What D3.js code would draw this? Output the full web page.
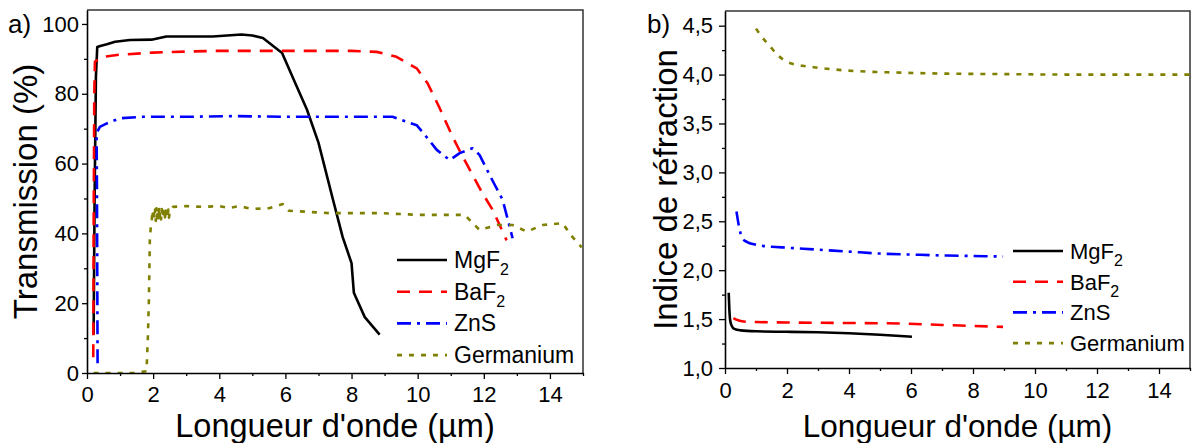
<!DOCTYPE html>
<html>
<head>
<meta charset="utf-8">
<script src="https://cdn.jsdelivr.net/npm/d3@7"></script>
<style>
  html, body { margin: 0; padding: 0; background: #fff; }
  svg { display: block; font-family: "Liberation Sans", Arial, sans-serif; }
</style>
</head>
<body>
<svg id="chart" width="1192" height="443"></svg>
<script>
// ---------------- DATA ----------------
const seriesNames = ["MgF2", "BaF2", "ZnS", "Germanium"];

// Panel a) Transmission (%) vs wavelength (µm)
const mgf2T_x = [0.2, 0.23, 0.27, 0.31, 0.4, 0.6, 0.85, 1.3, 1.95, 2.4, 3.0, 3.8, 4.67, 5.0, 5.32, 5.9, 6.3, 6.65, 7.0, 7.43, 7.73, 8.0, 8.07, 8.4, 8.85];
const mgf2T_y = [11, 50, 85, 93.4, 93.7, 94.2, 94.9, 95.4, 95.5, 96.4, 96.4, 96.4, 97.0, 96.7, 96.0, 91.7, 83, 75.5, 66, 50, 39, 31.5, 23, 16, 11];

const baf2T_x = [0.19, 0.2, 0.22, 0.24, 0.49, 1.0, 2.0, 3.0, 4.0, 5.0, 6.0, 7.0, 8.0, 8.76, 9.36, 9.97, 10.3, 10.66, 11.06, 11.36, 11.96, 12.27, 12.69];
const baf2T_y = [4.5, 40, 80, 89.2, 90.6, 91.2, 91.8, 92.1, 92.3, 92.3, 92.3, 92.3, 92.3, 92.0, 90.6, 87.3, 83, 76, 67.6, 62, 51.5, 46.7, 38];

const znsT_x = [0.32, 0.31, 0.3, 0.29, 0.39, 0.6, 1.0, 1.7, 3.0, 4.5, 6.0, 7.5, 9.0, 9.24, 9.97, 10.27, 10.57, 10.97, 11.27, 11.66, 11.87, 12.27, 12.57, 12.78, 12.87];
const znsT_y = [2.8, 30, 55, 68.7, 70.5, 71.5, 73.0, 73.4, 73.4, 73.6, 73.4, 73.4, 73.4, 73.4, 71, 67.6, 64, 61, 63, 64.4, 62.5, 55, 49.6, 42, 38.6];

const geT_x = [0.2, 0.6, 1.0, 1.4, 1.8, 1.84, 1.87, 1.9, 1.93, 1.96, 1.98, 2.0, 2.02, 2.04, 2.06, 2.08, 2.1, 2.12, 2.14, 2.16, 2.18, 2.2, 2.22, 2.24, 2.26, 2.28, 2.3, 2.32, 2.34, 2.36, 2.38, 2.4, 2.42, 2.44, 2.46, 2.48, 2.5, 2.55, 2.6, 3.0, 3.5, 4.0, 4.3, 4.6, 5.0, 5.5, 5.92, 6.1, 7.34, 8.85, 10.06, 11.42, 11.87, 12.4, 12.87, 13.3, 13.78, 14.38, 14.68, 14.96];
const geT_y = [0, 0, 0, 0, 0.5, 10, 20, 38, 42, 44, 46.5, 43.5, 47, 44.2, 46.8, 43.6, 47.2, 44.5, 46.6, 43.8, 47, 44.8, 46.3, 44, 47, 45, 46.5, 44.2, 46.9, 44.6, 47.1, 44.3, 46.4, 44.8, 46.8, 44.5, 46.2, 46.8, 47.6, 47.8, 47.6, 47.8, 47.3, 47.8, 47.0, 47.2, 48.4, 46.5, 45.8, 45.8, 45.3, 45.3, 41, 42.4, 42.4, 40.5, 42.4, 42.9, 39, 36];

// Panel b) Refractive index vs wavelength (µm)
const mgf2N_x = [0.12, 0.14, 0.17, 0.22, 0.3, 0.5, 1.0, 2.0, 3.0, 4.0, 5.0, 6.03];
const mgf2N_y = [1.77, 1.60, 1.48, 1.43, 1.40, 1.385, 1.375, 1.37, 1.365, 1.355, 1.34, 1.32];

const baf2N_x = [0.27, 0.4, 0.6, 1.0, 2.0, 4.0, 5.65, 7.0, 8.0, 8.97];
const baf2N_y = [1.51, 1.49, 1.475, 1.47, 1.465, 1.46, 1.455, 1.44, 1.43, 1.42];

const znsN_x = [0.37, 0.45, 0.55, 0.7, 1.0, 1.5, 2.0, 3.0, 4.0, 5.0, 6.0, 7.15, 8.0, 8.97];
const znsN_y = [2.60, 2.45, 2.33, 2.29, 2.26, 2.24, 2.23, 2.21, 2.19, 2.17, 2.16, 2.15, 2.145, 2.14];

const geN_x = [1.0, 1.2, 1.45, 1.7, 2.0, 2.5, 3.0, 4.0, 4.6, 5.65, 7.0, 9.0, 11.0, 13.0, 15.0];
const geN_y = [4.47, 4.38, 4.29, 4.20, 4.13, 4.09, 4.07, 4.04, 4.03, 4.02, 4.01, 4.005, 4.0, 4.0, 4.0];

// Tick values
const xTicks = [0, 2, 4, 6, 8, 10, 12, 14];
const xMinorTicks = [1, 3, 5, 7, 9, 11, 13, 15];
const yTicksA = [0, 20, 40, 60, 80, 100];
const yMinorA = [10, 30, 50, 70, 90];
const yTicksB = [1.0, 1.5, 2.0, 2.5, 3.0, 3.5, 4.0, 4.5];
const yMinorB = [1.25, 1.75, 2.25, 2.75, 3.25, 3.75, 4.25];

// ---------------- STYLES ----------------
const colors = {MgF2: "#000000", BaF2: "#ff0000", ZnS: "#0000ff", Germanium: "#808000"};
const dashes = {MgF2: null, BaF2: "13,9", ZnS: "14,6,3,6", Germanium: "5,7"};
const FONT = '"Liberation Sans", Arial, sans-serif';

const svg = d3.select("#chart");

function zip(xs, ys) { return xs.map((x, i) => [x, ys[i]]); }

function drawPanel(cfg) {
  const {x0, x1, yTop, yBot, xDomain, yDomain, yTicks, yMinor, yFmt, series, id, curve,
         yTickSize, yPad, xPad, yTitle, yTitleX, xTitleSize, label, labelX, legend} = cfg;
  const x = d3.scaleLinear().domain(xDomain).range([x0, x1]);
  const y = d3.scaleLinear().domain(yDomain).range([yBot, yTop]);

  svg.append("clipPath").attr("id", "clip" + id)
    .append("rect").attr("x", x0).attr("y", yTop).attr("width", x1 - x0).attr("height", yBot - yTop);

  // frame (top & right)
  svg.append("path")
    .attr("d", `M${x0},${yTop}H${x1}V${yBot}`)
    .attr("fill", "none").attr("stroke", "#333").attr("stroke-width", 1.5);

  // lines
  const g = svg.append("g").attr("clip-path", `url(#clip${id})`);
  const line = d3.line().x(d => x(d[0])).y(d => y(d[1])).curve(curve);
  series.forEach(s => {
    g.append("path").datum(zip(s.xs, s.ys))
      .attr("d", line)
      .attr("fill", "none")
      .attr("stroke", colors[s.name])
      .attr("stroke-width", 2.6)
      .attr("stroke-linejoin", "round")
      .attr("stroke-dasharray", dashes[s.name]);
  });

  // x axis
  const xAxis = d3.axisBottom(x).tickValues(xTicks).tickSize(6).tickPadding(xPad).tickSizeOuter(0).tickFormat(d3.format("d"));
  const gx = svg.append("g").attr("transform", `translate(0,${yBot})`).call(xAxis);
  const xMinorAxis = d3.axisBottom(x).tickValues(xMinorTicks).tickSize(3).tickFormat("").tickSizeOuter(0);
  const gxm = svg.append("g").attr("transform", `translate(0,${yBot})`).call(xMinorAxis);
  gxm.select(".domain").remove();
  // y axis
  const yAxis = d3.axisLeft(y).tickValues(yTicks).tickSize(yTickSize).tickPadding(yPad).tickSizeOuter(0).tickFormat(yFmt);
  const gy = svg.append("g").attr("transform", `translate(${x0},0)`).call(yAxis);
  const yMinorAxis = d3.axisLeft(y).tickValues(yMinor).tickSize(3).tickFormat("").tickSizeOuter(0);
  const gym = svg.append("g").attr("transform", `translate(${x0},0)`).call(yMinorAxis);
  gym.select(".domain").remove();

  [gx, gxm, gy, gym].forEach(a => {
    a.selectAll(".domain").attr("stroke", "#000").attr("stroke-width", 1.6);
    a.selectAll(".tick line").attr("stroke", "#000").attr("stroke-width", 1.3);
    a.selectAll(".tick text").attr("font-family", FONT).attr("font-size", 22).attr("fill", "#000");
  });

  // axis titles
  svg.append("text")
    .attr("x", (x0 + x1) / 2).attr("y", 437)
    .attr("text-anchor", "middle").attr("font-family", FONT).attr("font-size", xTitleSize)
    .text("Longueur d'onde (µm)");
  svg.append("text")
    .attr("transform", `translate(${yTitleX},${(yTop + yBot) / 2}) rotate(-90)`)
    .attr("text-anchor", "middle").attr("font-family", FONT).attr("font-size", 33)
    .text(yTitle);

  // panel label
  svg.append("text").attr("x", labelX).attr("y", 33)
    .attr("font-family", FONT).attr("font-size", 26).text(label);

  // legend
  series.forEach((s, i) => {
    const ly = legend.y0 + i * legend.dy;
    svg.append("line")
      .attr("x1", legend.x).attr("x2", legend.x + 50)
      .attr("y1", ly).attr("y2", ly)
      .attr("stroke", colors[s.name]).attr("stroke-width", 2.6)
      .attr("stroke-dasharray", dashes[s.name]);
    const t = svg.append("text")
      .attr("x", legend.x + 57).attr("y", ly + 8)
      .attr("font-family", FONT).attr("font-size", legend.size);
    const m = s.name.match(/^(.*?)(\d)$/);
    if (m) {
      t.append("tspan").text(m[1]);
      t.append("tspan").attr("font-size", 16).attr("dy", 7).text(m[2]);
    } else {
      t.text(s.name);
    }
  });
}

const fmtComma = d => d3.format(".1f")(d).replace(".", ",");

drawPanel({
  id: "a", x0: 87, x1: 583, yTop: 10, yBot: 373,
  xDomain: [0, 15], yDomain: [0, 104],
  yTicks: yTicksA, yMinor: yMinorA, yFmt: d3.format("d"),
  yTickSize: 5, yPad: 3, xPad: 7,
  curve: d3.curveLinear,
  series: [
    {name: "MgF2", xs: mgf2T_x, ys: mgf2T_y},
    {name: "BaF2", xs: baf2T_x, ys: baf2T_y},
    {name: "ZnS", xs: znsT_x, ys: znsT_y},
    {name: "Germanium", xs: geT_x, ys: geT_y}
  ],
  yTitle: "Transmission (%)", yTitleX: 37, xTitleSize: 32.5,
  label: "a)", labelX: 8,
  legend: {x: 397, y0: 260, dy: 31.7, size: 23}
});

drawPanel({
  id: "b", x0: 725, x1: 1190, yTop: 11, yBot: 368,
  xDomain: [0, 15], yDomain: [1, 4.65],
  yTicks: yTicksB, yMinor: yMinorB, yFmt: fmtComma,
  yTickSize: 6, yPad: 6, xPad: 8,
  curve: d3.curveMonotoneX,
  series: [
    {name: "MgF2", xs: mgf2N_x, ys: mgf2N_y},
    {name: "BaF2", xs: baf2N_x, ys: baf2N_y},
    {name: "ZnS", xs: znsN_x, ys: znsN_y},
    {name: "Germanium", xs: geN_x, ys: geN_y}
  ],
  yTitle: "Indice de réfraction", yTitleX: 677, xTitleSize: 31.5,
  label: "b)", labelX: 647,
  legend: {x: 1013, y0: 251, dy: 30.7, size: 22}
});
</script>
</body>
</html>
